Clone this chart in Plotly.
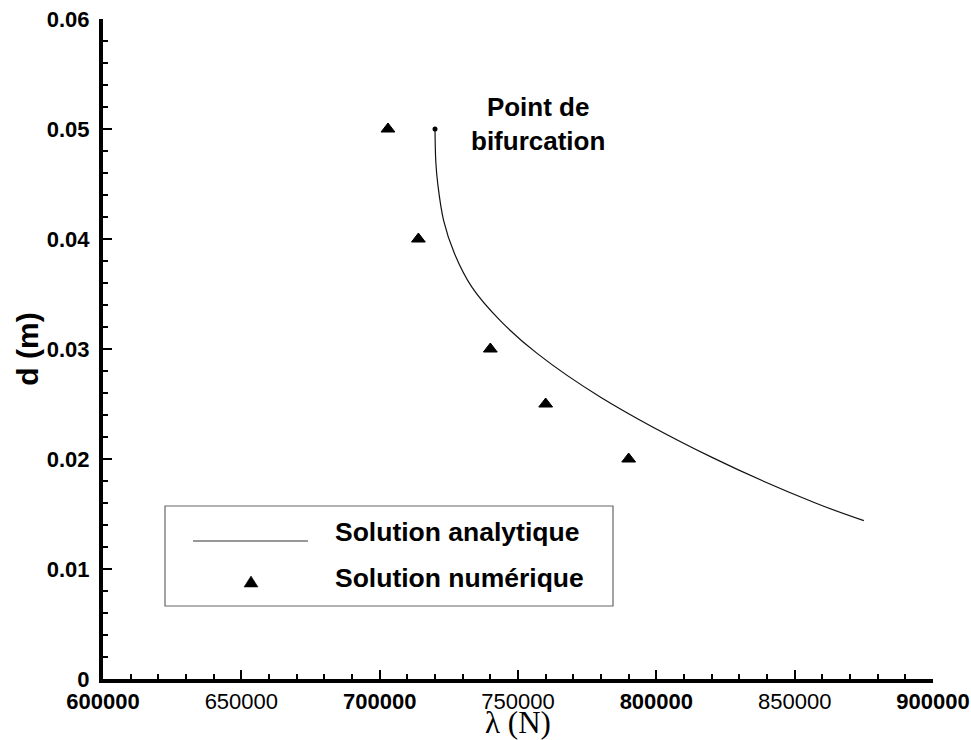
import plotly.graph_objects as go

# ---- data ----
lam_analytic = [720000, 720300, 721000, 723100, 727000, 733400, 743500, 756900,
                780000, 820500, 857500, 875000]
d_analytic = [0.0500, 0.0470, 0.0450, 0.0417, 0.0387, 0.0356, 0.0326, 0.0296,
              0.0256, 0.0201, 0.0160, 0.0144]

lam_numeric = [703000, 714000, 740000, 760000, 790000]
d_numeric = [0.050, 0.040, 0.030, 0.025, 0.020]

bif_lam = [720000]
bif_d = [0.050]

x_ticks = [600000, 650000, 700000, 750000, 800000, 850000, 900000]
x_ticktext = ["<b>600000</b>", "650000", "<b>700000</b>", "750000",
              "<b>800000</b>", "850000", "<b>900000</b>"]
y_ticks = [0, 0.01, 0.02, 0.03, 0.04, 0.05, 0.06]
y_ticktext = ["<b>0</b>", "<b>0.01</b>", "<b>0.02</b>", "<b>0.03</b>",
              "<b>0.04</b>", "<b>0.05</b>", "<b>0.06</b>"]

legend_labels = ["Solution analytique", "Solution numérique"]
annot_text = "<b>Point de<br>bifurcation</b>"

# ---- layout geometry (pixels) ----
W, H = 971, 740
L, R, T, B = 103, 38, 19, 61
PW, PH = W - L - R, H - T - B


def px(x):
    # screen pixel -> paper fraction
    return (x - L) / PW


def py(y):
    return (H - B - y) / PH


SANS = "Liberation Sans, Arial, sans-serif"
SERIF = "Liberation Serif, Times New Roman, serif"

fig = go.Figure()
fig.add_trace(go.Scatter(x=lam_analytic, y=d_analytic, mode="lines",
                         line=dict(color="#111111", width=1.2, shape="spline"),
                         name=legend_labels[0], showlegend=False))
fig.add_trace(go.Scatter(x=lam_numeric, y=d_numeric, mode="markers",
                         marker=dict(symbol="triangle-up", size=12, color="black",
                                     line=dict(color="black", width=1)),
                         name=legend_labels[1], showlegend=False))
fig.add_trace(go.Scatter(x=bif_lam, y=bif_d, mode="markers",
                         marker=dict(symbol="circle", size=5, color="black"),
                         showlegend=False, hoverinfo="skip"))

# custom legend
shapes = [
    dict(type="rect", xref="paper", yref="paper",
         x0=px(165), x1=px(613), y0=py(606), y1=py(506),
         line=dict(color="#666666", width=1.2), fillcolor="rgba(0,0,0,0)"),
    dict(type="line", xref="paper", yref="paper",
         x0=px(193), x1=px(308), y0=py(541), y1=py(541),
         line=dict(color="#333333", width=1.2)),
    dict(type="path", xref="paper", yref="paper",
         path="M {} {} L {} {} L {} {} Z".format(px(244), py(587), px(258), py(587),
                                                 px(251), py(576)),
         fillcolor="black", line=dict(color="black", width=0.5)),
]

annotations = [
    dict(xref="paper", yref="paper", x=px(333), y=py(532), xanchor="left", yanchor="middle",
         text="<b>" + legend_labels[0] + "</b>", showarrow=False,
         font=dict(family=SANS, size=26.5, color="black")),
    dict(xref="paper", yref="paper", x=px(333), y=py(578), xanchor="left", yanchor="middle",
         text="<b>" + legend_labels[1] + "</b>", showarrow=False,
         font=dict(family=SANS, size=26.5, color="black")),
    dict(xref="paper", yref="paper", x=px(538), y=py(124), xanchor="center", yanchor="middle",
         text=annot_text, showarrow=False, align="center",
         font=dict(family=SANS, size=26, color="black")),
]

fig.update_layout(
    width=W, height=H,
    margin=dict(l=L, r=R, t=T, b=B),
    paper_bgcolor="white", plot_bgcolor="white",
    showlegend=False,
    shapes=shapes, annotations=annotations,
    xaxis=dict(range=[600000, 900000], showgrid=False, zeroline=False, automargin=False,
               showline=True, linewidth=4, linecolor="black",
               ticks="inside", ticklen=9, tickwidth=2, tickcolor="black",
               tickvals=x_ticks, ticktext=x_ticktext, ticklabeloverflow="allow",
               tickfont=dict(family=SANS, size=22, color="black"),
               minor=dict(dtick=10000, ticks="inside", ticklen=5, tickwidth=1.5,
                          tickcolor="black", showgrid=False),
               title=dict(text="λ (N)", font=dict(family=SERIF, size=31, color="black"),
                          standoff=0)),
    yaxis=dict(range=[0, 0.06], showgrid=False, zeroline=False, automargin=False,
               showline=True, linewidth=4, linecolor="black",
               ticks="inside", ticklen=9, tickwidth=2, tickcolor="black",
               tickvals=y_ticks, ticktext=y_ticktext, ticklabelstandoff=5,
               ticklabeloverflow="allow",
               tickfont=dict(family=SANS, size=22, color="black"),
               minor=dict(dtick=0.002, ticks="inside", ticklen=5, tickwidth=1.5,
                          tickcolor="black", showgrid=False),
               title=dict(text="<b>d (m)</b>", font=dict(family=SANS, size=30, color="black"),
                          standoff=0)),
)

fig.write_html(
    "out.html",
    config={"displayModeBar": False},
    post_script="document.body.style.margin='0';document.body.style.overflow='hidden';",
)
